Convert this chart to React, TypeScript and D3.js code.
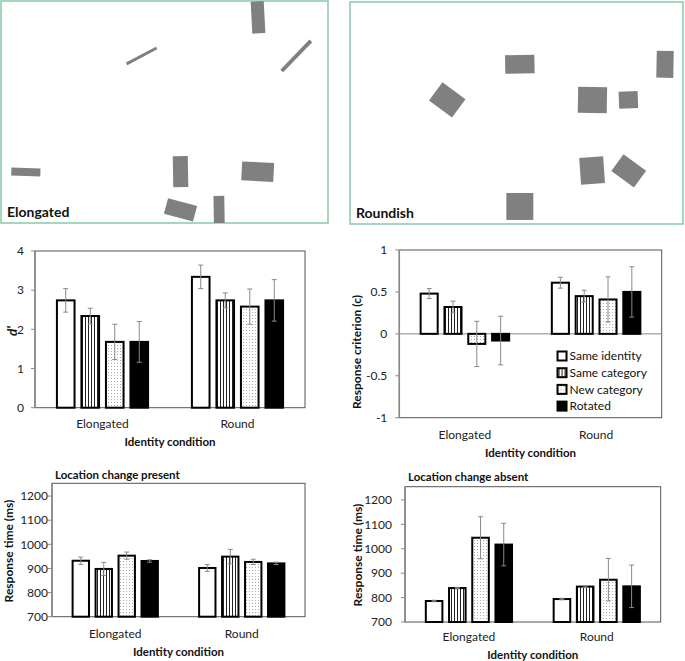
import * as d3 from 'd3'

const categories = ['Elongated', 'Round']
const series = ['Same identity', 'Same category', 'New category', 'Rotated']

const dPrime = [[2.74, 2.34, 1.68, 1.68], [3.34, 2.74, 2.58, 2.74]]
const dPrimeErr = [[0.3, 0.2, 0.45, 0.52], [0.3, 0.19, 0.45, 0.53]]
const dTicks = [0, 1, 2, 3, 4]

const criterion = [[0.48, 0.32, -0.12, -0.08], [0.61, 0.45, 0.41, 0.5]]
const criterionErr = [[0.06, 0.07, 0.27, 0.29], [0.065, 0.07, 0.27, 0.3]]
const cTicks = [-1, -0.5, 0, 0.5, 1]

const rtPresent = [[932, 898, 953, 931], [902, 949, 927, 921]]
const rtPresentErr = [[15, 27, 15, 5], [14, 30, 11, 5]]
const rtAbsent = [[786, 839, 1045, 1017], [794, 845, 873, 846]]
const rtAbsentErr = [[3, 3, 86, 87], [3, 3, 87, 87]]
const rtTicks = [700, 800, 900, 1000, 1100, 1200]

// stimulus displays, in units of 1/100 of the display width
const elongatedShapes = [
  { x: 78.6, y: 5.0, w: 4.0, h: 9.8, a: -3 },
  { x: 43.0, y: 16.8, w: 10.4, h: 0.9, a: -28 },
  { x: 90.3, y: 16.8, w: 12.8, h: 1.2, a: -46 },
  { x: 7.6, y: 52.3, w: 8.9, h: 2.4, a: 2 },
  { x: 54.9, y: 52.2, w: 4.6, h: 9.5, a: -1 },
  { x: 78.5, y: 52.2, w: 9.8, h: 5.8, a: 3 },
  { x: 54.9, y: 63.9, w: 9.2, h: 4.9, a: 15 },
  { x: 66.7, y: 64.2, w: 3.3, h: 9.2, a: -1 },
]
const roundishShapes = [
  { x: 29.2, y: 29.4, w: 8.6, h: 6.8, a: 36.5 },
  { x: 51.0, y: 18.7, w: 8.8, h: 5.6, a: -1 },
  { x: 94.6, y: 18.7, w: 5.1, h: 8.1, a: 1 },
  { x: 72.8, y: 29.4, w: 8.7, h: 7.8, a: 1 },
  { x: 83.6, y: 29.4, w: 5.7, h: 5.1, a: -2 },
  { x: 72.7, y: 50.6, w: 7.2, h: 8.1, a: -4 },
  { x: 83.7, y: 50.7, w: 8.4, h: 6.2, a: 36 },
  { x: 51.0, y: 61.4, w: 8.1, h: 8.1, a: 0 },
]

const FONT = 'Lato, "Open Sans", sans-serif'
const fills = ['#fff', 'url(#pat-lines)', 'url(#pat-dots)', '#000']

function StimulusPanel({ left, top, width, height, shapes, label, clip }) {
  const s = d3.scaleLinear().domain([0, 100]).range([0, width])
  return (
    <g transform={`translate(${left},${top})`}>
      <defs>
        <clipPath id={clip}>
          <rect x={0} y={0} width={width} height={height} />
        </clipPath>
      </defs>
      <rect x={0} y={0} width={width} height={height} fill="#fff" stroke="#86cba6" strokeWidth={1.5} />
      <g clipPath={`url(#${clip})`}>
        {shapes.map((d, i) => (
          <rect
            key={i}
            x={-s(d.w) / 2}
            y={-s(d.h) / 2}
            width={s(d.w)}
            height={s(d.h)}
            fill="#808080"
            transform={`translate(${s(d.x)},${s(d.y)}) rotate(${d.a})`}
          />
        ))}
      </g>
      <text x={6} y={height - 6} fontFamily={FONT} fontWeight="bold" fontSize={14} fill="#111">{label}</text>
    </g>
  )
}

function BarPanel({ box, domain, ticks, fmt, values, errors, yLabel, yLabelPos, tickPad, xLabelY, titleY, title, italicLabel, legend }) {
  const x0 = d3.scaleBand().domain(categories).range([box.left, box.right]).paddingInner(0.31).paddingOuter(0.155)
  const x1 = d3.scaleBand().domain(series).range([0, x0.bandwidth()]).paddingInner(0.2)
  const y = d3.scaleLinear().domain(domain).range([box.bottom, box.top])
  const base = Math.max(domain[0], Math.min(0, domain[1]))
  const cap = 2.5
  return (
    <g fontFamily={FONT}>
      <rect x={box.left} y={box.top} width={box.right - box.left} height={box.bottom - box.top} fill="#fff" stroke="#555" strokeWidth={1} />
      {domain[0] < 0 && (
        <line x1={box.left} x2={box.right} y1={y(0)} y2={y(0)} stroke="#888" strokeWidth={1} />
      )}
      <line x1={box.left} x2={box.left} y1={box.top} y2={box.bottom} stroke="#888" strokeWidth={1.5} />
      {ticks.map(t => (
        <g key={t}>
          <line x1={box.left - 4} x2={box.left} y1={y(t)} y2={y(t)} stroke="#888" />
          <text x={box.left - tickPad} y={y(t)} dy="0.35em" textAnchor="end" fontSize={12} fill="#222">{fmt(t)}</text>
        </g>
      ))}
      {categories.map((c, ci) => (
        <g key={c}>
          {series.map((s, si) => {
            const v = values[ci][si]
            const e = errors[ci][si]
            const bx = x0(c) + x1(s)
            const cx = bx + x1.bandwidth() / 2
            return (
              <g key={s}>
                <rect
                  x={bx + 1}
                  y={Math.min(y(v), y(base))}
                  width={x1.bandwidth() - 2}
                  height={Math.abs(y(v) - y(base))}
                  fill={fills[si]}
                  stroke="#000"
                  strokeWidth={2}
                />
                <line x1={cx} x2={cx} y1={y(v + e)} y2={y(v - e)} stroke="#8a8a8a" strokeWidth={1} />
                <line x1={cx - cap} x2={cx + cap} y1={y(v + e)} y2={y(v + e)} stroke="#8a8a8a" strokeWidth={1} />
                <line x1={cx - cap} x2={cx + cap} y1={y(v - e)} y2={y(v - e)} stroke="#8a8a8a" strokeWidth={1} />
              </g>
            )
          })}
          <text x={x0(c) + x0.bandwidth() / 2} y={xLabelY} textAnchor="middle" fontSize={12} fill="#222">{c}</text>
        </g>
      ))}
      <text x={(box.left + box.right) / 2} y={xLabelY + 18} textAnchor="middle" fontSize={11.5} fontWeight="bold" fill="#111">Identity condition</text>
      <text
        transform={`translate(${yLabelPos[0]},${yLabelPos[1]}) rotate(-90)`}
        textAnchor="middle"
        dominantBaseline="central"
        fontSize={italicLabel ? 13.5 : 12}
        fontWeight="bold"
        fontStyle={italicLabel ? 'italic' : 'normal'}
        fill="#111"
      >{yLabel}</text>
      {title && (
        <text x={box.left + 3} y={titleY} fontSize={11.5} fontWeight="bold" fill="#111">{title}</text>
      )}
      {legend && series.map((s, si) => (
        <g key={s} transform={`translate(${box.left + (box.right - box.left) * 0.603},${box.top + 106 + si * 16.7})`}>
          <rect x={0} y={-4.5} width={9} height={9} fill={fills[si]} stroke="#000" strokeWidth={2} />
          <text x={12} y={0} dy="0.35em" fontSize={12} fill="#111">{s}</text>
        </g>
      ))}
    </g>
  )
}

export default function App() {
  return (
    <svg width={685} height={661} style={{ position: 'absolute', left: 0, top: 0, background: '#fff' }}>
      <defs>
        <pattern id="pat-lines" width={3} height={4} patternUnits="userSpaceOnUse">
          <rect width={3} height={4} fill="#fff" />
          <rect x={1} width={1} height={4} fill="#222" />
        </pattern>
        <pattern id="pat-dots" width={3} height={3} patternUnits="userSpaceOnUse">
          <rect width={3} height={3} fill="#fff" />
          <rect x={0} y={0} width={1} height={1} fill="#aaa" />
        </pattern>
      </defs>
      <rect width={685} height={661} fill="#fff" />
      <StimulusPanel left={1} top={1} width={327} height={222} shapes={elongatedShapes} label="Elongated" clip="clip-a" />
      <StimulusPanel left={350} top={2} width={333} height={222} shapes={roundishShapes} label="Roundish" clip="clip-b" />

      <BarPanel
        box={{ left: 35, right: 305, top: 251, bottom: 407.7 }}
        domain={[0, 4]}
        ticks={dTicks}
        fmt={d => String(d)}
        values={dPrime}
        errors={dPrimeErr}
        yLabel="d'"
        italicLabel
        yLabelPos={[12, 331]}
        tickPad={11}
        xLabelY={428}
      />
      <BarPanel
        box={{ left: 399.3, right: 661.7, top: 250, bottom: 417.7 }}
        domain={[-1, 1]}
        ticks={cTicks}
        fmt={d => String(d)}
        values={criterion}
        errors={criterionErr}
        yLabel="Response criterion (c)"
        yLabelPos={[356.5, 352]}
        tickPad={12}
        xLabelY={439}
        legend
      />
      <BarPanel
        box={{ left: 52, right: 305, top: 483.3, bottom: 616.7 }}
        domain={[700, 1253]}
        ticks={rtTicks}
        fmt={d => String(d)}
        values={rtPresent}
        errors={rtPresentErr}
        yLabel="Response time (ms)"
        yLabelPos={[8, 551]}
        tickPad={4}
        xLabelY={638}
        title="Location change present"
        titleY={479}
      />
      <BarPanel
        box={{ left: 405, right: 660.7, top: 486.7, bottom: 622 }}
        domain={[700, 1254]}
        ticks={rtTicks}
        fmt={d => String(d)}
        values={rtAbsent}
        errors={rtAbsentErr}
        yLabel="Response time (ms)"
        yLabelPos={[357.5, 555]}
        tickPad={13}
        xLabelY={641}
        title="Location change absent"
        titleY={481}
      />
    </svg>
  )
}
